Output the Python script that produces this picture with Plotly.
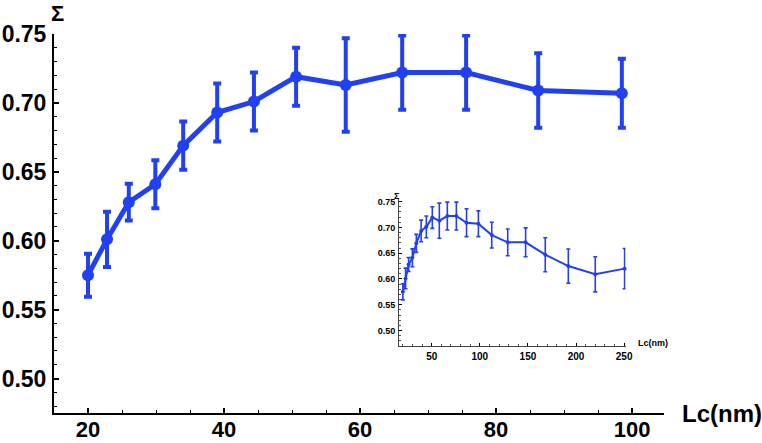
import plotly.graph_objects as go

# Main panel data
lc_main = [20, 22.8, 26, 29.9, 34, 39, 44.4, 50.6, 57.9, 66.2, 75.6, 86.2, 98.5]
sigma_main = [0.575, 0.601, 0.628, 0.641, 0.669, 0.693, 0.701, 0.719, 0.713, 0.722, 0.722, 0.709, 0.707]
err_main = [0.0156, 0.020, 0.0134, 0.0174, 0.0175, 0.021, 0.021, 0.021, 0.034, 0.027, 0.027, 0.027, 0.025]

# Inset data (extends the range to 250 nm)
lc_inset_extra = [112.4, 129, 147.6, 168, 192, 220, 250.5]
sigma_inset_extra = [0.685, 0.671, 0.671, 0.647, 0.625, 0.609, 0.620]
err_inset_extra = [0.025, 0.026, 0.028, 0.033, 0.033, 0.034, 0.039]

lc_inset = lc_main + lc_inset_extra
sigma_inset = sigma_main + sigma_inset_extra
err_inset = err_main + err_inset_extra

main_ticks_x = [20, 40, 60, 80, 100]
main_ticks_y = [0.50, 0.55, 0.60, 0.65, 0.70, 0.75]
inset_ticks_x = [50, 100, 150, 200, 250]
inset_ticks_y = [0.50, 0.55, 0.60, 0.65, 0.70, 0.75]

BLUE = "#2140F0"
FONT = "Liberation Sans"

fig = go.Figure()
fig.add_trace(go.Scatter(
    x=lc_main, y=sigma_main, mode="lines+markers",
    line=dict(color=BLUE, width=5), marker=dict(color=BLUE, size=12),
    error_y=dict(type="data", array=err_main, visible=True, color=BLUE, thickness=4, width=4),
    xaxis="x", yaxis="y", showlegend=False, cliponaxis=False,
))
fig.add_trace(go.Scatter(
    x=lc_inset, y=sigma_inset, mode="lines+markers",
    line=dict(color=BLUE, width=2), marker=dict(color=BLUE, size=4),
    error_y=dict(type="data", array=err_inset, visible=True, color=BLUE, thickness=1.6, width=2),
    xaxis="x2", yaxis="y2", showlegend=False, cliponaxis=False,
))

axis_common = dict(showgrid=False, zeroline=False, showline=True,
                   ticks="inside", tickcolor="black", automargin=False)

fig.update_layout(
    width=762, height=443,
    margin=dict(l=54, r=98, t=34, b=30),
    paper_bgcolor="white", plot_bgcolor="white",
    xaxis=dict(**axis_common, range=[15, 104.7], domain=[0, 1], linewidth=2, linecolor="black",
               tickvals=main_ticks_x, ticklen=5, tickwidth=1.5,
               minor=dict(dtick=5, tick0=0, ticks="inside", ticklen=3, tickcolor="black", tickwidth=1.2),
               tickfont=dict(family=FONT, size=22, color="black", weight="bold"), ticklabelstandoff=-4),
    yaxis=dict(**axis_common, range=[0.475, 0.75], domain=[0, 1], linewidth=2, linecolor="black",
               tickvals=main_ticks_y, tickformat=".2f", ticklen=5, tickwidth=1.5,
               minor=dict(dtick=0.01, tick0=0, ticks="inside", ticklen=3, tickcolor="black", tickwidth=1.2),
               tickfont=dict(family=FONT, size=23, color="black", weight="bold"), ticklabelstandoff=1),
    xaxis2=dict(**axis_common, range=[16, 251.5], domain=[0.5656, 0.937], anchor="y2", linewidth=1,
                linecolor="#444", tickvals=inset_ticks_x, ticklen=3, tickwidth=1,
                minor=dict(dtick=10, tick0=0, ticks="inside", ticklen=2, tickcolor="#555", tickwidth=1),
                tickfont=dict(family=FONT, size=10, color="black", weight="bold"), ticklabelstandoff=1),
    yaxis2=dict(**axis_common, range=[0.47, 0.755], domain=[0.1768, 0.5646], anchor="x2", linewidth=1,
                linecolor="#444", tickvals=inset_ticks_y, tickformat=".2f", ticklen=3, tickwidth=1,
                minor=dict(dtick=0.01, tick0=0, ticks="inside", ticklen=2, tickcolor="#555", tickwidth=1),
                tickfont=dict(family=FONT, size=9, color="black", weight="bold"), ticklabelstandoff=1),
    annotations=[
        dict(text="Σ", xref="paper", yref="paper", x=0.005, y=1.055, showarrow=False,
             xanchor="center", yanchor="middle",
             font=dict(family=FONT, size=22, color="black", weight="bold")),
        dict(text="Lc(nm)", xref="paper", yref="paper", x=1.026, y=0.0, xanchor="left",
             yanchor="middle", showarrow=False,
             font=dict(family=FONT, size=24, color="black", weight="bold")),
        dict(text="Σ", xref="paper", yref="paper", x=0.562, y=0.5726, showarrow=False,
             xanchor="center", yanchor="middle",
             font=dict(family=FONT, size=9, color="black", weight="bold")),
        dict(text="Lc(nm)", xref="paper", yref="paper", x=0.954, y=0.185, xanchor="left",
             yanchor="middle", showarrow=False,
             font=dict(family=FONT, size=9, color="black", weight="bold")),
    ],
)

fig.write_html(
    "out.html",
    config={"displayModeBar": False},
    post_script="document.body.style.margin='0';document.body.style.overflow='hidden';",
)
